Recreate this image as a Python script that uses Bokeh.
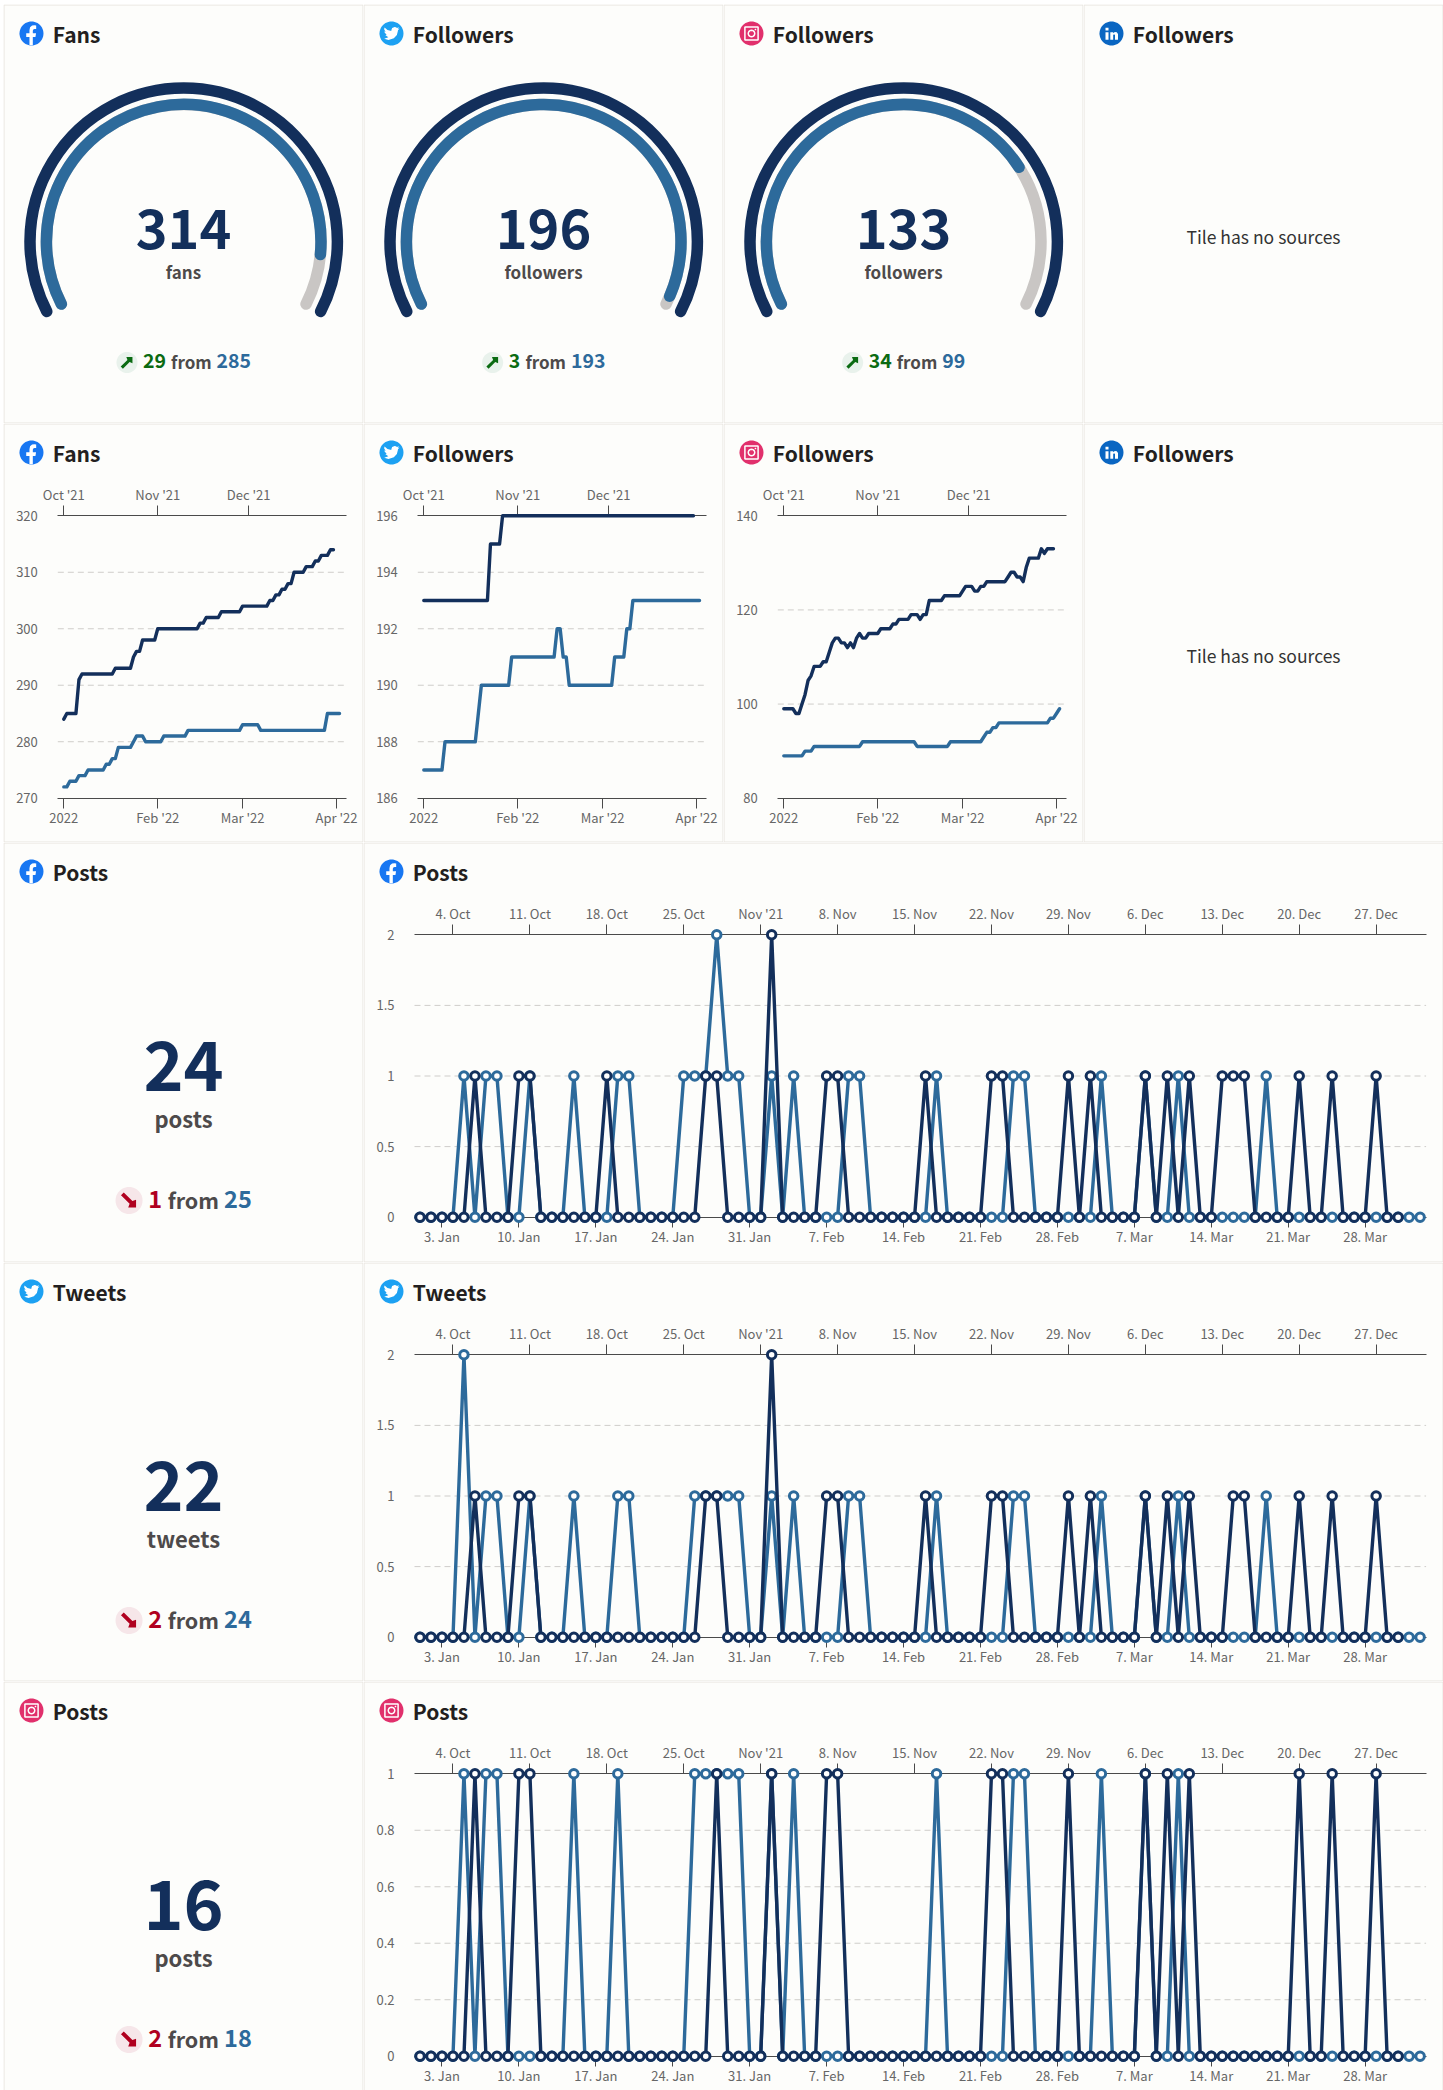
from bokeh.plotting import figure
from bokeh.layouts import column, row
from bokeh.models import (Range1d, LinearAxis, FixedTicker, Label, PolyAnnotation)
from bokeh.embed import file_html
from bokeh.resources import INLINE
import math

FONT = "Noto Sans CJK SC"
NAVY, BLUE, GREY = "#132f5b", "#2d6a9b", "#c9c6c4"
TILE_BG, TILE_LINE = "#fdfdfb", "#e7e4de"
TITLE_C, MUTED, TICK_C = "#231f20", "#4d4a4a", "#666666"
GREEN, GREEN_BG, RED, RED_BG = "#0b6b12", "#e9f2ec", "#b0001f", "#f6e6e9"
BRAND = {"fb": "#1877f2", "tw": "#1da1f2", "ig": "#e1306c", "li": "#0a66c2"}

# ---- gauge tiles
gauge_current = [314, 196, 133]
gauge_previous = [285, 193, 99]
gauge_units = ["fans", "followers", "followers"]
gauge_titles = ["Fans", "Followers", "Followers"]

# ---- number tiles
posts_current = [24, 22, 16]
posts_previous = [25, 24, 18]
posts_units = ["posts", "tweets", "posts"]
posts_titles = ["Posts", "Tweets", "Posts"]

# ---- line charts: index = days since the start of each period
line_bottom_ticks = [0, 31, 59, 90]
line_bottom_labels = ["2022", "Feb '22", "Mar '22", "Apr '22"]
line_top_ticks = [0, 31, 61]
line_top_labels = ["Oct '21", "Nov '21", "Dec '21"]

fans_now = [284, 285, 285, 285, 285, 291, 292, 292, 292, 292,
            292, 292, 292, 292, 292, 292, 292, 293, 293, 293,
            293, 293, 293, 295, 296, 296, 298, 298, 298, 298,
            298, 300, 300, 300, 300, 300, 300, 300, 300, 300,
            300, 300, 300, 300, 300, 301, 301, 302, 302, 302,
            302, 302, 303, 303, 303, 303, 303, 303, 303, 304,
            304, 304, 304, 304, 304, 304, 304, 304, 305, 305,
            306, 306, 307, 307, 308, 308, 310, 310, 310, 310,
            311, 311, 311, 312, 312, 313, 313, 313, 314, 314]
fans_prev = [272, 272, 273, 273, 273, 274, 274, 274, 275, 275,
             275, 275, 275, 275, 276, 276, 277, 277, 279, 279,
             279, 279, 279, 280, 281, 281, 281, 280, 280, 280,
             280, 280, 280, 281, 281, 281, 281, 281, 281, 281,
             281, 282, 282, 282, 282, 282, 282, 282, 282, 282,
             282, 282, 282, 282, 282, 282, 282, 282, 282, 283,
             283, 283, 283, 283, 283, 282, 282, 282, 282, 282,
             282, 282, 282, 282, 282, 282, 282, 282, 282, 282,
             282, 282, 282, 282, 282, 282, 282, 285, 285, 285,
             285, 285]
tw_now = [193, 193, 193, 193, 193, 193, 193, 193, 193, 193,
          193, 193, 193, 193, 193, 193, 193, 193, 193, 193,
          193, 193, 195, 195, 195, 195, 196, 196, 196, 196,
          196, 196, 196, 196, 196, 196, 196, 196, 196, 196,
          196, 196, 196, 196, 196, 196, 196, 196, 196, 196,
          196, 196, 196, 196, 196, 196, 196, 196, 196, 196,
          196, 196, 196, 196, 196, 196, 196, 196, 196, 196,
          196, 196, 196, 196, 196, 196, 196, 196, 196, 196,
          196, 196, 196, 196, 196, 196, 196, 196, 196, 196]
tw_prev = [187, 187, 187, 187, 187, 187, 187, 188, 188, 188,
           188, 188, 188, 188, 188, 188, 188, 188, 189, 190,
           190, 190, 190, 190, 190, 190, 190, 190, 190, 191,
           191, 191, 191, 191, 191, 191, 191, 191, 191, 191,
           191, 191, 191, 191, 192, 192, 191, 191, 190, 190,
           190, 190, 190, 190, 190, 190, 190, 190, 190, 190,
           190, 190, 190, 191, 191, 191, 191, 192, 192, 193,
           193, 193, 193, 193, 193, 193, 193, 193, 193, 193,
           193, 193, 193, 193, 193, 193, 193, 193, 193, 193,
           193, 193]
ig_now = [99, 99, 99, 99, 98, 98, 100, 102, 105, 106,
          108, 108, 108, 109, 109, 111, 113, 114, 114, 113,
          113, 112, 113, 112, 114, 115, 114, 114, 115, 115,
          115, 115, 116, 116, 116, 116, 117, 117, 118, 118,
          118, 118, 119, 119, 119, 118, 119, 119, 122, 122,
          122, 122, 122, 123, 123, 123, 123, 123, 123, 124,
          125, 125, 125, 124, 124, 125, 125, 126, 126, 126,
          126, 126, 126, 126, 127, 128, 128, 127, 127, 126,
          129, 131, 131, 131, 131, 133, 132, 133, 133, 133]
ig_prev = [89, 89, 89, 89, 89, 89, 89, 90, 90, 90,
           91, 91, 91, 91, 91, 91, 91, 91, 91, 91,
           91, 91, 91, 91, 91, 91, 92, 92, 92, 92,
           92, 92, 92, 92, 92, 92, 92, 92, 92, 92,
           92, 92, 92, 92, 91, 91, 91, 91, 91, 91,
           91, 91, 91, 91, 91, 92, 92, 92, 92, 92,
           92, 92, 92, 92, 92, 92, 93, 94, 94, 95,
           95, 96, 96, 96, 96, 96, 96, 96, 96, 96,
           96, 96, 96, 96, 96, 96, 96, 96, 97, 97,
           98, 99]

# ---- posting charts
post_bottom_ticks = [2, 9, 16, 23, 30, 37, 44, 51, 58, 65, 72, 79, 86]
post_bottom_labels = ["3. Jan", "10. Jan", "17. Jan", "24. Jan", "31. Jan", "7. Feb", "14. Feb",
                      "21. Feb", "28. Feb", "7. Mar", "14. Mar", "21. Mar", "28. Mar"]
post_top_ticks = [3, 10, 17, 24, 31, 38, 45, 52, 59, 66, 73, 80, 87]
post_top_labels = ["4. Oct", "11. Oct", "18. Oct", "25. Oct", "Nov '21", "8. Nov", "15. Nov",
                   "22. Nov", "29. Nov", "6. Dec", "13. Dec", "20. Dec", "27. Dec"]

fb_now = [0, 0, 0, 0, 0, 1, 0, 0, 0, 1,
          1, 0, 0, 0, 0, 0, 0, 1, 0, 0,
          0, 0, 0, 0, 0, 0, 1, 1, 0, 0,
          0, 0, 2, 0, 0, 0, 0, 1, 1, 0,
          0, 0, 0, 0, 0, 0, 1, 0, 0, 0,
          0, 0, 1, 1, 0, 0, 0, 0, 0, 1,
          0, 1, 0, 0, 0, 0, 1, 0, 1, 0,
          1, 0, 0, 1, 1, 1, 0, 0, 0, 0,
          1, 0, 0, 1, 0, 0, 0, 1, 0, 0]
fb_prev = [0, 0, 0, 0, 1, 0, 1, 1, 0, 0,
           1, 0, 0, 0, 1, 0, 0, 0, 1, 1,
           0, 0, 0, 0, 1, 1, 1, 2, 1, 1,
           0, 0, 1, 0, 1, 0, 0, 0, 0, 1,
           1, 0, 0, 0, 0, 0, 0, 1, 0, 0,
           0, 0, 0, 0, 1, 1, 0, 0, 0, 0,
           0, 0, 1, 0, 0, 0, 1, 0, 0, 1,
           0, 0, 0, 0, 0, 0, 0, 1, 0, 0,
           0, 0, 0, 0, 0, 0, 0, 0, 0, 0,
           0, 0]
twp_now = [0, 0, 0, 0, 0, 1, 0, 0, 0, 1,
           1, 0, 0, 0, 0, 0, 0, 0, 0, 0,
           0, 0, 0, 0, 0, 0, 1, 1, 0, 0,
           0, 0, 2, 0, 0, 0, 0, 1, 1, 0,
           0, 0, 0, 0, 0, 0, 1, 0, 0, 0,
           0, 0, 1, 1, 0, 0, 0, 0, 0, 1,
           0, 1, 0, 0, 0, 0, 1, 0, 1, 0,
           1, 0, 0, 0, 1, 1, 0, 0, 0, 0,
           1, 0, 0, 1, 0, 0, 0, 1, 0, 0]
twp_prev = [0, 0, 0, 0, 2, 0, 1, 1, 0, 0,
            1, 0, 0, 0, 1, 0, 0, 0, 1, 1,
            0, 0, 0, 0, 0, 1, 1, 1, 1, 1,
            0, 0, 1, 0, 1, 0, 0, 0, 0, 1,
            1, 0, 0, 0, 0, 0, 0, 1, 0, 0,
            0, 0, 0, 0, 1, 1, 0, 0, 0, 0,
            0, 0, 1, 0, 0, 0, 1, 0, 0, 1,
            0, 0, 0, 0, 0, 0, 0, 1, 0, 0,
            0, 0, 0, 0, 0, 0, 0, 0, 0, 0,
            0, 0]
igp_now = [0, 0, 0, 0, 0, 1, 0, 0, 0, 1,
           1, 0, 0, 0, 0, 0, 0, 0, 0, 0,
           0, 0, 0, 0, 0, 0, 0, 1, 0, 0,
           0, 0, 1, 0, 0, 0, 0, 1, 1, 0,
           0, 0, 0, 0, 0, 0, 0, 0, 0, 0,
           0, 0, 1, 1, 0, 0, 0, 0, 0, 1,
           0, 0, 0, 0, 0, 0, 1, 0, 1, 0,
           1, 0, 0, 0, 0, 0, 0, 0, 0, 0,
           1, 0, 0, 1, 0, 0, 0, 1, 0, 0]
igp_prev = [0, 0, 0, 0, 1, 0, 1, 1, 0, 0,
            0, 0, 0, 0, 1, 0, 0, 0, 1, 0,
            0, 0, 0, 0, 0, 1, 1, 1, 1, 1,
            0, 0, 1, 0, 1, 0, 0, 0, 0, 0,
            0, 0, 0, 0, 0, 0, 0, 1, 0, 0,
            0, 0, 0, 0, 1, 1, 0, 0, 0, 0,
            0, 0, 1, 0, 0, 0, 1, 0, 0, 1,
            0, 0, 0, 0, 0, 0, 0, 0, 0, 0,
            0, 0, 0, 0, 0, 0, 0, 0, 0, 0,
            0, 0]

TILE_W = 360
ROW_H = [419, 419, 420, 419, 409]
MAP = {}   # figure id -> tile-pixel to data converters


def tile_fig(w, h, x_range, y_range):
    """One tile: the plotting frame fills the whole tile, so nothing in it is clipped."""
    p = figure(width=w, height=h, x_range=x_range, y_range=y_range, x_axis_type=None, y_axis_type=None,
               toolbar_location=None, output_backend="svg", min_border=0, background_fill_color=TILE_BG,
               border_fill_color=TILE_BG, outline_line_color=None, frame_align=False)
    def fx(px):
        return x_range.start + px / w * (x_range.end - x_range.start)
    def fy(py):
        return y_range.end - py / h * (y_range.end - y_range.start)
    MAP[p.id] = (fx, fy)
    bot = max(h, 419) - 0.5
    poly(p, [0.5, w - 0.5, w - 0.5, 0.5], [0.5, 0.5, bot, bot], None, TILE_LINE, 1)
    return p


def poly(p, xs, ys, fill, line=None, lw=0):
    fx, fy = MAP[p.id]
    p.add_layout(PolyAnnotation(xs=[fx(v) for v in xs], ys=[fy(v) for v in ys],
                                fill_color=fill, fill_alpha=1 if fill else 0, line_color=line,
                                line_alpha=1 if line else 0, line_width=lw, editable=False))


def text(p, x, y, s, size, color, bold=True, align="left"):
    fx, fy = MAP[p.id]
    y = y - (3 + 0.3 * size)    # the renderer sets "alphabetic" text this much too low
    p.add_layout(Label(x=fx(x), y=fy(y), text=s, text_font=FONT,
                       text_font_size=f"{size}px", text_color=color, text_align=align,
                       text_baseline="alphabetic", text_font_style="bold" if bold else "normal"))


def ring(cx, cy, r, n=48):
    return ([cx + r * math.cos(2 * math.pi * k / n) for k in range(n)],
            [cy + r * math.sin(2 * math.pi * k / n) for k in range(n)])


def icon(p, kind, cx=28, cy=29, r=12):
    xs, ys = ring(cx, cy, r)
    poly(p, xs, ys, BRAND[kind])
    def shape(points, s=r):
        poly(p, [cx + a * s for a, b in points], [cy + b * s for a, b in points], "#ffffff")
    if kind == "fb":
        shape([(-.17, .98), (-.17, .29), (-.44, .29), (-.44, -.03), (-.17, -.03), (-.17, -.28), (-.12, -.52),
               (.05, -.66), (.25, -.69), (.39, -.66), (.39, -.38), (.25, -.38), (.15, -.34), (.11, -.22),
               (.11, -.03), (.38, -.03), (.33, .29), (.11, .29), (.11, .98)])
    elif kind == "tw":
        bird = [(24, 2.3), (21.2, 3.1), (23.3, .4), (20.2, 1.6), (18.5, .5), (16.6, 0), (13, 1.5), (11.7, 4.9), (11.8, 6),
                (6, 4.5), (1.7, .9), (1, 3.4), (3.2, 7.5), (1, 6.9), (1, 7), (4.9, 11.8), (2.7, 11.9), (7.3, 15.3),
                (1.2, 17.4), (0, 17.3), (7.5, 19.5), (15.5, 17), (20, 12), (21.6, 5.5), (21.6, 4.9)]
        shape([((a - 12) * .056, (b - 9.75) * .056) for a, b in bird])
    elif kind == "ig":
        q = .55 * r
        poly(p, [cx - q, cx + q, cx + q, cx - q], [cy - q, cy - q, cy + q, cy + q], None, "#ffffff", 1.5)
        xs, ys = ring(cx, cy, .27 * r, 20)
        poly(p, xs, ys, None, "#ffffff", 1.5)
        xs, ys = ring(cx + .33 * r, cy - .33 * r, .07 * r, 10)
        poly(p, xs, ys, "#ffffff")
    else:
        shape([(-.5, -.1), (-.25, -.1), (-.25, .52), (-.5, .52)])
        shape([(-.5, -.48), (-.25, -.48), (-.25, -.24), (-.5, -.24)])
        shape([(-.1, -.1), (.14, -.1), (.14, -.02), (.28, -.12), (.44, -.1), (.54, .05), (.54, .52), (.29, .52),
               (.29, .12), (.21, .06), (.14, .12), (.14, .52), (-.1, .52)])


def arrow(p, cx, cy, r, color, up):
    h = r * .52
    o = .2 * h
    pts = [(-h * .95 + o, h * .95 + o), (h * .28 + o, -h * .28 + o), (h, h * .12), (h, -h), (-h * .12, -h),
           (h * .28 - o, -h * .28 - o), (-h * .95 - o, h * .95 - o)]
    poly(p, [cx + a for a, b in pts], [cy + (b if up else -b) for a, b in pts], color)


def delta_row(p, base_y, cy, now, prev, font, font2, from_w, digit, r, gap):
    change = abs(now - prev)
    up = now >= prev
    col, bg = (GREEN, GREEN_BG) if up else (RED, RED_BG)
    s1, s2 = str(change), str(prev)
    total = 2 * r + gap + digit * len(s1) + gap + from_w + gap + digit * len(s2)
    x = 180 - total / 2
    xs, ys = ring(x + r, cy, r)
    poly(p, xs, ys, bg)
    arrow(p, x + r, cy, r, col, up)
    x += 2 * r + gap
    text(p, x, base_y, s1, font, col)
    x += digit * len(s1) + gap
    text(p, x, base_y, "from", font2, MUTED)
    x += from_w + gap
    text(p, x, base_y, s2, font, BLUE)


def gauge_tile(kind, title, now, prev, unit):
    cx, cy, h = 180.2, 237.2, ROW_H[0]
    p = tile_fig(TILE_W, h, Range1d(-cx, TILE_W - cx), Range1d(cy - h, cy))
    a0, sweep = 207.0, 234.0
    rad = math.radians
    p.arc(x=[0], y=[0], radius=[153.7], start_angle=[rad(a0)], end_angle=[rad(a0 - sweep)], direction="clock",
          line_color=NAVY, line_width=11.5, line_cap="round")
    p.arc(x=[0], y=[0], radius=[137.3], start_angle=[rad(a0)], end_angle=[rad(a0 - sweep)], direction="clock",
          line_color=GREY, line_width=11.5, line_cap="round")
    p.arc(x=[0], y=[0], radius=[137.3], start_angle=[rad(a0)], end_angle=[rad(a0 - sweep * prev / now)],
          direction="clock", line_color=BLUE, line_width=11.5, line_cap="round")
    icon(p, kind)
    text(p, 49.3, 38.7, title, 21, TITLE_C)
    text(p, 180, 244, str(now), 54, NAVY, align="center")
    text(p, 180, 275, unit, 17, MUTED, align="center")
    delta_row(p, 365.3, 358, now, prev, 19.5, 17, 40, 11.3, 10.5, 5.5)
    return p


def empty_tile(kind, title, h):
    p = tile_fig(TILE_W, h, Range1d(0, TILE_W), Range1d(h, 0))
    icon(p, kind)
    text(p, 49.3, 38.7, title, 21, TITLE_C)
    text(p, 180, 240, "Tile has no sources", 17.5, "#333333", bold=False, align="center")
    return p


def number_tile(kind, title, now, prev, unit, h):
    p = tile_fig(TILE_W, h, Range1d(0, TILE_W), Range1d(h, 0))
    icon(p, kind)
    text(p, 49.3, 38.7, title, 21, TITLE_C)
    text(p, 180, 247, str(now), 68, NAVY, align="center")
    text(p, 180, 284.7, unit, 22, MUTED, align="center")
    delta_row(p, 366.3, 358, now, prev, 23.5, 21.5, 50.7, 13.7, 13.5, 5.7)
    return p


def chart_tile(kind, title, w, h, ax_l, ax_r, i0, dx, ymin, ymax, now, prev, grid_ticks, y_ticks, y_labels,
               bottom_ticks, bottom_labels, top_ticks, top_labels, markers, tick_size):
    ax_t, ax_b = 92.3, 374.7
    py = (ax_b - ax_t) / (ymax - ymin)
    xr = Range1d((0 - i0) / dx, (w - i0) / dx)
    yr = Range1d(ymin - (h - ax_b) / py, ymax + ax_t / py)
    p = tile_fig(w, h, xr, yr)
    x_bounds = ((ax_l - i0) / dx, (ax_r - i0) / dx)

    n = len(grid_ticks)
    p.segment(x0=[x_bounds[0]] * n, y0=grid_ticks, x1=[x_bounds[1]] * n, y1=grid_ticks, line_color="#cfcdca",
              line_dash="6 4", line_width=1, level="underlay")
    ycol = LinearAxis(ticker=FixedTicker(ticks=y_ticks), major_label_overrides=dict(zip(y_ticks, y_labels)),
                      fixed_location=x_bounds[0], axis_line_color=None, major_tick_line_color=None,
                      minor_tick_line_color=None, major_label_text_font=FONT, major_label_text_font_size=tick_size,
                      major_label_text_color=TICK_C, major_label_standoff=14, level="underlay")
    p.add_layout(ycol, "left")
    for side, loc, ticks, labels, standoff in (("below", ymin, bottom_ticks, bottom_labels, 0),
                                               ("above", ymax, top_ticks, top_labels, 2)):
        ax = LinearAxis(ticker=FixedTicker(ticks=ticks), major_label_overrides=dict(zip(ticks, labels)),
                        fixed_location=loc, bounds=x_bounds, axis_line_color="#4a4a4a", axis_line_width=1,
                        major_tick_line_color="#4a4a4a", major_tick_in=0, major_tick_out=10,
                        minor_tick_line_color=None, major_label_text_font=FONT,
                        major_label_text_font_size=tick_size, major_label_text_color=TICK_C,
                        major_label_standoff=standoff, level="underlay")
        p.add_layout(ax, side)

    for series, col in ((prev, BLUE), (now, NAVY)):
        xs = list(range(len(series)))
        p.line(xs, series, line_color=col, line_width=3.4, line_join="round", line_cap="round")
        if markers:
            p.scatter(xs, series, marker="circle", size=8.5, fill_color="#ffffff", line_color=col, line_width=3)
    icon(p, kind)
    text(p, 49.3, 38.7, title, 21, TITLE_C)
    return p


def line_tile(kind, title, now, prev, ymin, ymax, y_ticks):
    y_labels = [str(v) for v in y_ticks]
    return chart_tile(kind, title, TILE_W, ROW_H[1], 54.3, 343, 60.3, 3.03, ymin, ymax, now, prev, y_ticks[1:-1],
                      y_ticks, y_labels, line_bottom_ticks, line_bottom_labels, line_top_ticks, line_top_labels,
                      False, "13px")


def posts_tile(kind, title, now, prev, ymax, y_ticks, y_labels, h):
    return chart_tile(kind, title, 1080, h, 51, 1062.6, 56.5, 10.99, 0, ymax, now, prev, y_ticks[1:-1], y_ticks,
                      y_labels, post_bottom_ticks, post_bottom_labels, post_top_ticks, post_top_labels, True, "13px")


kinds = ["fb", "tw", "ig"]
row1 = [gauge_tile(k, t, c, q, u) for k, t, c, q, u in zip(kinds, gauge_titles, gauge_current, gauge_previous, gauge_units)]
row1.append(empty_tile("li", "Followers", ROW_H[0]))

row2 = [line_tile("fb", "Fans", fans_now, fans_prev, 270, 320, [270, 280, 290, 300, 310, 320]),
        line_tile("tw", "Followers", tw_now, tw_prev, 186, 196, [186, 188, 190, 192, 194, 196]),
        line_tile("ig", "Followers", ig_now, ig_prev, 80, 140, [80, 100, 120, 140]),
        empty_tile("li", "Followers", ROW_H[1])]

two_ticks = [0, 0.5, 1, 1.5, 2]
two_labels = ["0", "0.5", "1", "1.5", "2"]
one_ticks = [0, 0.2, 0.4, 0.6, 0.8, 1]
one_labels = ["0", "0.2", "0.4", "0.6", "0.8", "1"]

row3 = [number_tile("fb", posts_titles[0], posts_current[0], posts_previous[0], posts_units[0], ROW_H[2]),
        posts_tile("fb", "Posts", fb_now, fb_prev, 2, two_ticks, two_labels, ROW_H[2])]
row4 = [number_tile("tw", posts_titles[1], posts_current[1], posts_previous[1], posts_units[1], ROW_H[3]),
        posts_tile("tw", "Tweets", twp_now, twp_prev, 2, two_ticks, two_labels, ROW_H[3])]
row5 = [number_tile("ig", posts_titles[2], posts_current[2], posts_previous[2], posts_units[2], ROW_H[4]),
        posts_tile("ig", "Posts", igp_now, igp_prev, 1, one_ticks, one_labels, ROW_H[4])]

layout = column([row(r, spacing=0) for r in (row1, row2, row3, row4, row5)], spacing=0, margin=(4, 0, 0, 3))

open("out.html", "w").write(file_html(layout, INLINE))
